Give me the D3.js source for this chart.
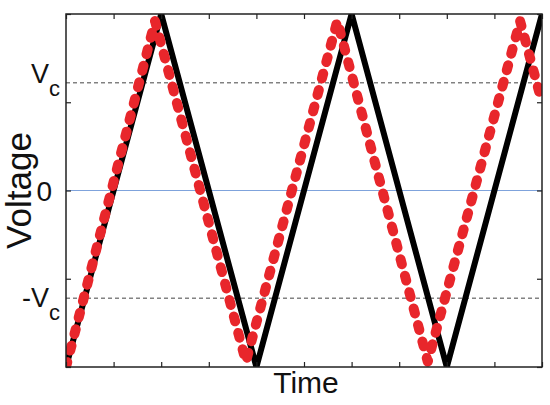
<!DOCTYPE html>
<html>
<head>
<meta charset="utf-8">
<script src="https://cdn.jsdelivr.net/npm/d3@7"></script>
<style>
  body { margin: 0; background: #fff; }
  text { font-family: "Liberation Sans", Arial, sans-serif; fill: #111; }
</style>
</head>
<body>
<div id="chart"></div>
<script>
// Data (time in arbitrary units, voltage normalised to +-1)
const blackTime = [0, 1, 2, 3, 4, 5];
const blackVolt = [-1, 1, -1, 1, -1, 1];
const redTime = [0, 0.935, 1.89, 2.85, 3.80, 4.77, 5.0];
const redVolt = [-1, 0.96, -0.97, 0.96, -0.97, 0.96, 0.5];
const vc = 0.61;
const xTicks = [0, 0.5, 1, 1.5, 2, 2.5, 3, 3.5, 4, 4.5, 5];
const yTicks = [-1, -0.5, 0, 0.5, 1];

const W = 550, H = 405;
const margin = {top: 14, right: 8, bottom: 38, left: 66};
const width = W - margin.left - margin.right,
      height = H - margin.top - margin.bottom;

const svg = d3.select("#chart").append("svg")
    .attr("width", W).attr("height", H);
const g = svg.append("g")
    .attr("transform", "translate(" + margin.left + "," + margin.top + ")");

const x = d3.scaleLinear().domain([0, 5]).range([0, width]);
const y = d3.scaleLinear().domain([-1, 1]).range([height, 0]);

g.append("clipPath").attr("id", "clip")
  .append("rect").attr("width", width).attr("height", height);

// reference lines
g.append("line")
    .attr("x1", 0).attr("x2", width)
    .attr("y1", y(0)).attr("y2", y(0))
    .attr("stroke", "#7fa3dc").attr("stroke-width", 1.2);
[vc, -vc].forEach(v => {
  g.append("line")
    .attr("x1", 0).attr("x2", width)
    .attr("y1", y(v)).attr("y2", y(v))
    .attr("stroke", "#444").attr("stroke-width", 1)
    .attr("stroke-dasharray", "4,3");
});

const line = d3.line().x(d => x(d[0])).y(d => y(d[1]));
const plot = g.append("g").attr("clip-path", "url(#clip)");

// black triangle wave
plot.append("path")
    .datum(blackTime.map((t, i) => [t, blackVolt[i]]))
    .attr("d", line)
    .attr("fill", "none")
    .attr("stroke", "#000")
    .attr("stroke-width", 6);

// red dotted wave
plot.append("path")
    .datum(redTime.map((t, i) => [t, redVolt[i]]))
    .attr("d", line)
    .attr("fill", "none")
    .attr("stroke", "#e8262b")
    .attr("stroke-width", 10)
    .attr("stroke-linecap", "round")
    .attr("stroke-linejoin", "round")
    .attr("stroke-dasharray", "5,12");

// axes with inward ticks on all four sides
const axisStyle = sel => {
  sel.select(".domain").remove();
  sel.selectAll("text").remove();
  sel.selectAll("line").attr("stroke", "#222").attr("stroke-width", 1.2);
};
g.append("g").attr("transform", "translate(0," + height + ")")
  .call(d3.axisBottom(x).tickValues(xTicks).tickSizeInner(-5).tickSizeOuter(0)).call(axisStyle);
g.append("g")
  .call(d3.axisTop(x).tickValues(xTicks).tickSizeInner(-5).tickSizeOuter(0)).call(axisStyle);
g.append("g")
  .call(d3.axisLeft(y).tickValues(yTicks).tickSizeInner(-5).tickSizeOuter(0)).call(axisStyle);
g.append("g").attr("transform", "translate(" + width + ",0)")
  .call(d3.axisRight(y).tickValues(yTicks).tickSizeInner(-5).tickSizeOuter(0)).call(axisStyle);

// frame
g.append("rect")
    .attr("width", width).attr("height", height)
    .attr("fill", "none").attr("stroke", "#222").attr("stroke-width", 1.5);

// y labels
const vLabel = (v, prefix) => {
  const t = g.append("text")
      .attr("x", -6).attr("y", y(v) + (v > 0 ? 0 : 9))
      .attr("text-anchor", "end")
      .style("font-size", "27px");
  t.append("tspan").text(prefix + "V");
  t.append("tspan").attr("dy", 13).style("font-size", "22px").text("c");
};
vLabel(vc, "");
vLabel(-vc, "-");
g.append("text")
    .attr("x", -14).attr("y", y(0) + 10)
    .attr("text-anchor", "end")
    .style("font-size", "28px")
    .text("0");

// axis titles
svg.append("text")
    .attr("transform", "translate(31," + (margin.top + y(0)) + ") rotate(-90)")
    .attr("text-anchor", "middle")
    .style("font-size", "35px")
    .text("Voltage");
svg.append("text")
    .attr("x", margin.left + width / 2 + 2).attr("y", 393)
    .attr("text-anchor", "middle")
    .style("font-size", "30px")
    .text("Time");
</script>
</body>
</html>
